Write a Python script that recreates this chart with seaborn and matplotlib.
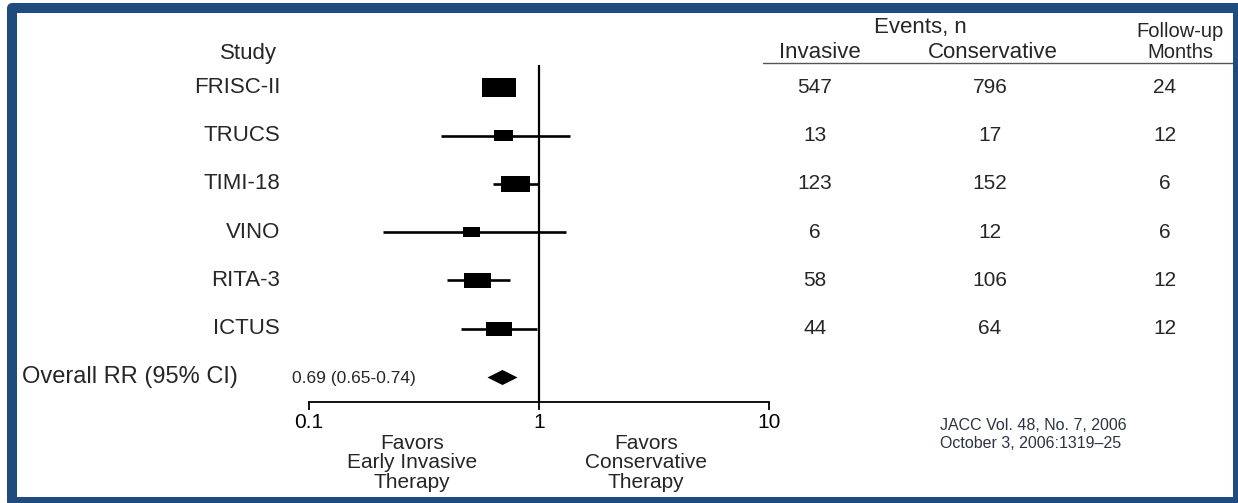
import numpy as np
import pandas as pd
import matplotlib
matplotlib.use('Agg')
import matplotlib.pyplot as plt
import matplotlib.transforms as mtransforms
from matplotlib.patches import Rectangle
from matplotlib.lines import Line2D
from matplotlib.ticker import NullLocator
import seaborn as sns

# --- values ---
studies = ['FRISC-II', 'TRUCS', 'TIMI-18', 'VINO', 'RITA-3', 'ICTUS']
rr = [0.67, 0.70, 0.79, 0.51, 0.54, 0.67]
ci_low = [0.60, 0.375, 0.63, 0.21, 0.40, 0.46]
ci_high = [0.75, 1.36, 1.00, 1.31, 0.75, 0.98]
weight = [27.7, 9.2, 21.4, 7.3, 18.5, 15.9]   # relative study weight (box area)
events_invasive = [547, 13, 123, 6, 58, 44]
events_conservative = [796, 17, 152, 12, 106, 64]
followup_months = [24, 12, 6, 6, 12, 12]

overall_rr = 0.69
overall_low = 0.65
overall_high = 0.74

x_ticks = [0.1, 1, 10]
x_tick_labels = ['0.1', '1', '10']

df = pd.DataFrame({
    'study': studies,
    'row': np.arange(len(studies)),
    'rr': rr,
    'lo': ci_low,
    'hi': ci_high,
    'weight': weight,
})
overall_row = len(studies)

# --- figure setup ---
sns.set_theme(style='white')
plt.rcParams['font.family'] = ['Liberation Sans', 'DejaVu Sans']

W, H = 1238, 503
fig = plt.figure(figsize=(W / 100, H / 100), dpi=100)
fig.patch.set_facecolor('white')

# forest plot area: 0.1 -> 10 on a log scale
ax = fig.add_axes([309 / W, 1 - 402 / H, 460 / W, 337 / H])
ax.set_xscale('log')
ax.set_xlim(0.1, 10)
ax.set_ylim(6.518, -0.466)

# confidence intervals
ax.hlines(df['row'], df['lo'], df['hi'], color='black', lw=1.9, zorder=2)

# study boxes (area follows weight)
box = [(-1, -0.56), (1, -0.56), (1, 0.56), (-1, 0.56), (-1, -0.56)]
k = 20.4
sns.scatterplot(data=df, x='rr', y='row', size='weight',
                sizes=(k * min(weight), k * max(weight)),
                size_norm=(min(weight), max(weight)),
                marker=box, color='black', linewidth=0,
                legend=False, ax=ax, zorder=3)

# pooled estimate diamond
diamond = [(-1, 0), (0, 0.5), (1, 0), (0, -0.5), (-1, 0)]
sns.scatterplot(x=[overall_rr], y=[overall_row], marker=diamond, s=470,
                color='black', linewidth=0, legend=False, ax=ax, zorder=3)

# line of no effect
ax.axvline(1, color='black', lw=1.6, zorder=1)

sns.despine(ax=ax, left=True)
ax.spines['bottom'].set_linewidth(1.3)
ax.spines['bottom'].set_color('black')
ax.set_yticks([])
ax.set_xticks(x_ticks, x_tick_labels)
ax.xaxis.set_minor_locator(NullLocator())
ax.tick_params(axis='x', bottom=True, direction='out', length=6, width=1.3,
               color='black', labelsize=15, pad=2, labelcolor='black')
ax.set_xlabel('')
ax.set_ylabel('')
ax.set_facecolor('none')

# --- text columns ---
trans = mtransforms.blended_transform_factory(fig.transFigure, ax.transData)

fig.text(277 / W, 1 - 53 / H, 'Study', ha='right', va='center', fontsize=16)
for r, name in zip(df['row'], studies):
    fig.text(280 / W, r, name, ha='right', va='center', fontsize=16,
             transform=trans)

fig.text(22 / W, overall_row, 'Overall RR (95% CI)', ha='left', va='center',
         fontsize=17, transform=trans)
fig.text(292 / W, overall_row + 0.04,
         f'{overall_rr:.2f} ({overall_low:.2f}-{overall_high:.2f})',
         ha='left', va='center', fontsize=12.5, transform=trans)

# table header
fig.text(920 / W, 1 - 27 / H, 'Events, n', ha='center', va='center', fontsize=16)
fig.text(820 / W, 1 - 52 / H, 'Invasive', ha='center', va='center', fontsize=16)
fig.text(993 / W, 1 - 52 / H, 'Conservative', ha='center', va='center', fontsize=16)
fig.text(1180 / W, 1 - 37 / H, 'Follow-up', ha='center', va='baseline',
         fontsize=14.5)
fig.text(1180 / W, 1 - 58 / H, 'Months', ha='center', va='baseline',
         fontsize=14.5)
fig.add_artist(Line2D([763 / W, 1233 / W], [1 - 63 / H, 1 - 63 / H],
                      color='#555555', lw=1.0))

for r, a, c, m in zip(df['row'], events_invasive, events_conservative,
                      followup_months):
    fig.text(815 / W, r, str(a), ha='center', va='center', fontsize=15,
             transform=trans)
    fig.text(990 / W, r, str(c), ha='center', va='center', fontsize=15,
             transform=trans)
    fig.text(1165 / W, r, str(m), ha='center', va='center', fontsize=15,
             transform=trans)

# favours labels
fig.text(412 / W, 1 - 463 / H, 'Favors\nEarly Invasive\nTherapy', ha='center',
         va='center', fontsize=15, linespacing=1.05)
fig.text(646 / W, 1 - 463 / H, 'Favors\nConservative\nTherapy', ha='center',
         va='center', fontsize=15, linespacing=1.05)

# source
fig.text(940 / W, 1 - 425 / H, 'JACC Vol. 48, No. 7, 2006', ha='left',
         va='center', fontsize=11.5, color='#2c3342')
fig.text(940 / W, 1 - 444 / H, 'October 3, 2006:1319\u201325', ha='left',
         va='center', fontsize=11.5, color='#2c3342')

# blue frame around the slide
frame = Rectangle((12 / W, 1 - 502 / H), (1238 - 12) / W, (502 - 8) / H,
                  transform=fig.transFigure, fill=False, edgecolor='#1f4b7e',
                  lw=7.2, joinstyle='round', zorder=10)
fig.add_artist(frame)

fig.savefig('out.png', dpi=100, facecolor='white')
